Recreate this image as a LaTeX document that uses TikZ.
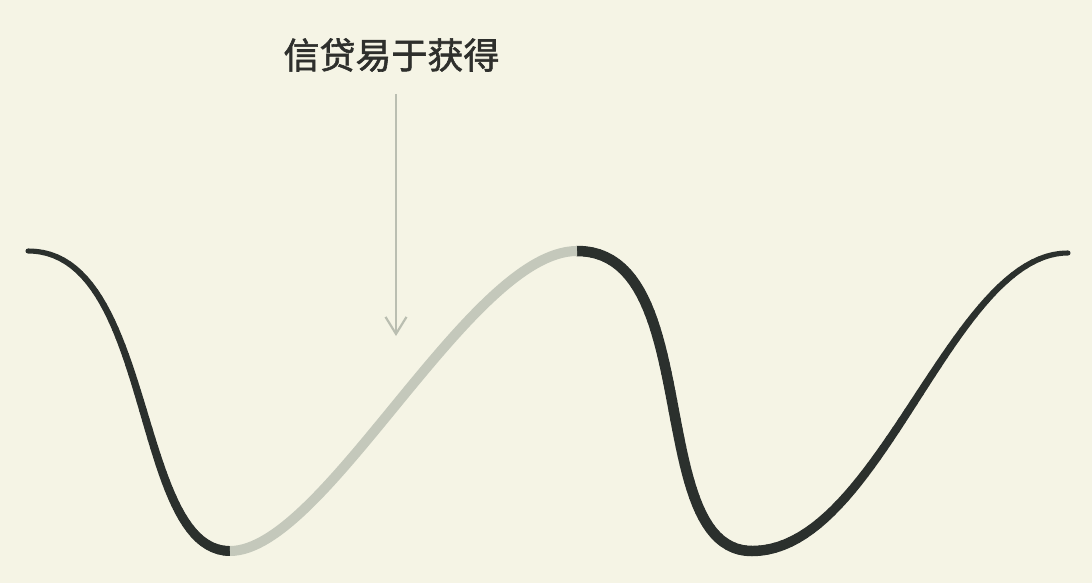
\documentclass[tikz,border=0pt]{standalone}
\usepackage{fontspec}
\newfontfamily\cjk[FakeBold=1.6]{Noto Sans CJK SC}
\usetikzlibrary{arrows.meta}
\definecolor{bgcream}{HTML}{F5F4E5}
\definecolor{curvedark}{HTML}{2B302D}
\definecolor{curvegray}{HTML}{C4C8BB}
\definecolor{arrowgray}{HTML}{BABEB1}
\definecolor{labeltext}{HTML}{2E2F2C}
% tapered cubic segment drawn as many short pieces
\newcommand\taperseg[7]{%
  \foreach \i in {0,...,47}{%
    \pgfmathsetmacro\ta{\i/48}%
    \pgfmathsetmacro\tb{(\i+1)/48}%
    \pgfmathsetmacro\w{#5+(#6-#5)*(\i+0.5)/48}%
    \begin{pgfscope}
      \pgfsetlinewidth{\w pt}%
      \pgfsetroundcap
      \pgfsetstrokecolor{#7}%
      \pgfpathcurvebetweentime{\ta}{\tb}{#1}{#2}{#3}{#4}%
      \pgfusepath{stroke}%
    \end{pgfscope}
  }%
}
\tikzset{
  pointer/.style={draw=arrowgray, line width=2pt, -{Straight Barb[length=17pt,width=21pt,line width=2.2pt]}},
  grayseg/.style={draw=curvegray, line width=10pt, line cap=butt},
  label/.style={font=\cjk\fontsize{36}{39}\selectfont, text=labeltext, inner sep=0pt}
}
\begin{document}
\begin{tikzpicture}[x=1pt,y=-1pt]
  \fill[bgcream] (0,0) rectangle (1092,583);
  \useasboundingbox (0,0) rectangle (1092,583);
  % key points of the wave
  \coordinate (p0) at (28,251);
  \coordinate (p1) at (230,551);
  \coordinate (p2) at (577,251);
  \coordinate (p3) at (752,551);
  \coordinate (p4) at (1068,253);
  % dark segments (tapered)
  \taperseg{\pgfpointxy{28}{251}}{\pgfpointxy{155}{251}}{\pgfpointxy{133}{551}}{\pgfpointxy{230}{551}}{5}{10}{curvedark}
  \taperseg{\pgfpointxy{577}{251}}{\pgfpointxy{705}{251}}{\pgfpointxy{644}{551}}{\pgfpointxy{752}{551}}{10.5}{10.5}{curvedark}
  \taperseg{\pgfpointxy{752}{551}}{\pgfpointxy{880}{551}}{\pgfpointxy{951}{253}}{\pgfpointxy{1068}{253}}{10.5}{5}{curvedark}
  % light gray rising segment
  \draw[grayseg] (p1) .. controls (325,551) and (470,251) .. (p2);
  % label and pointer
  \node[label] (title) at (391.5,55) {信贷易于获得};
  \coordinate (astart) at (396,94);
  \coordinate (aend) at (396,336);
  \draw[pointer] (astart) -- (aend);
\end{tikzpicture}
\end{document}
